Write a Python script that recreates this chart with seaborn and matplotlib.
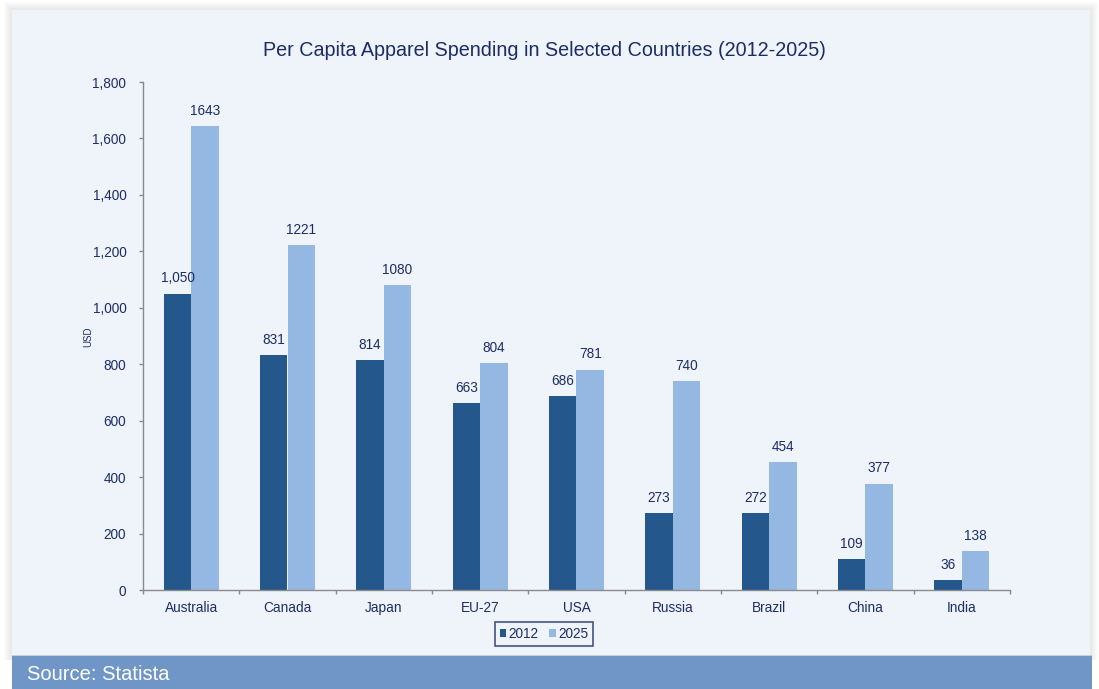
import matplotlib
matplotlib.use("Agg")
import matplotlib.pyplot as plt
import seaborn as sns
import pandas as pd
from matplotlib.patches import Rectangle
from matplotlib.ticker import FuncFormatter, FixedLocator

countries = ["Australia", "Canada", "Japan", "EU-27", "USA", "Russia", "Brazil", "China", "India"]
values_2012 = [1050, 831, 814, 663, 686, 273, 272, 109, 36]
values_2025 = [1643, 1221, 1080, 804, 781, 740, 454, 377, 138]
labels_2012 = ["1,050", "831", "814", "663", "686", "273", "272", "109", "36"]
labels_2025 = ["1643", "1221", "1080", "804", "781", "740", "454", "377", "138"]
years = ["2012", "2025"]
yticks = [0, 200, 400, 600, 800, 1000, 1200, 1400, 1600, 1800]

df = pd.DataFrame({
    "country": countries * 2,
    "value": values_2012 + values_2025,
    "year": [years[0]] * len(countries) + [years[1]] * len(countries),
})

sns.set_theme(style="white")
plt.rcParams["font.family"] = ["Liberation Sans", "DejaVu Sans"]

TXT = "#1c2d66"
C12 = "#24578c"
C25 = "#95b8e3"
BG = "#eff3fa"

W, H = 1099, 689
fig = plt.figure(figsize=(W / 100, H / 100), dpi=100)
fig.patch.set_facecolor("white")

def fx(px):
    return px / W

def fy(py):
    return 1 - py / H

def add_rect(x0, y0, x1, y1, color, z, alpha=1.0):
    r = Rectangle((fx(x0), fy(y1)), fx(x1) - fx(x0), fy(y0) - fy(y1),
                  transform=fig.transFigure, facecolor=color, edgecolor="none",
                  zorder=z, alpha=alpha)
    fig.add_artist(r)

# soft shadow
for i in range(8, 0, -1):
    add_rect(12 - i, 10 - i, 1090 + i, 660, "#9a9a9a", -6, alpha=0.025)
# panel, footer
add_rect(12, 10, 1090, 655, BG, -4)
add_rect(12, 655, 1092, 689, "#7096c8", -3)
add_rect(12, 654.5, 1092, 655.7, "#c9ccd2", -2)
fig.text(fx(27), fy(675), "Source: Statista", color="white", fontsize=14.5, va="center", ha="left")

fig.text(fx(544.5), fy(50), "Per Capita Apparel Spending in Selected Countries (2012-2025)",
         fontsize=14.2, color=TXT, ha="center", va="center")

ax = fig.add_axes([fx(143), fy(590), fx(1010) - fx(143), fy(82) - fy(590)])
ax.set_facecolor("none")

sns.barplot(data=df, x="country", y="value", hue="year", order=countries, hue_order=years,
            palette=[C12, C25], width=0.57, ax=ax, saturation=1, edgecolor="none", legend=True)

ax.set_xlim(-0.5, len(countries) - 0.5)
ax.set_ylim(0, 1800)
ax.yaxis.set_major_locator(FixedLocator(yticks))
ax.yaxis.set_major_formatter(FuncFormatter(lambda v, p: f"{int(v):,}"))

for cont, labs in zip(ax.containers, [labels_2012, labels_2025]):
    ax.bar_label(cont, labels=labs, padding=6, fontsize=9.8, color=TXT)

for s in ["top", "right"]:
    ax.spines[s].set_visible(False)
for s in ["left", "bottom"]:
    ax.spines[s].set_color("#8a8a8a")
    ax.spines[s].set_linewidth(1.0)

ax.tick_params(axis="y", which="major", left=True, length=3, width=1, color="#8a8a8a",
               labelsize=9.8, labelcolor=TXT, pad=9)
ax.tick_params(axis="x", which="major", bottom=False, labelsize=9.8, labelcolor=TXT, pad=2)
ax.set_xticks([i + 0.5 for i in range(-1, len(countries))], minor=True)
ax.tick_params(axis="x", which="minor", bottom=True, length=3, width=1, color="#8a8a8a")

ax.set_xlabel("")
ax.set_ylabel("")
fig.text(fx(88), fy(337), "USD", fontsize=7, color=TXT, rotation=90, ha="center", va="center")

leg = ax.legend(loc="center", bbox_to_anchor=(fx(544), fy(634)),
                bbox_transform=fig.transFigure, ncol=2, frameon=True,
                fontsize=9.8, handlelength=0.5, handleheight=0.5, handletextpad=0.15,
                columnspacing=0.8, borderpad=0.35, fancybox=False, labelcolor=TXT)
leg.get_frame().set_edgecolor(TXT)
leg.get_frame().set_linewidth(1.2)
leg.get_frame().set_facecolor(BG)

fig.savefig("out.png", dpi=100, facecolor=fig.get_facecolor())
